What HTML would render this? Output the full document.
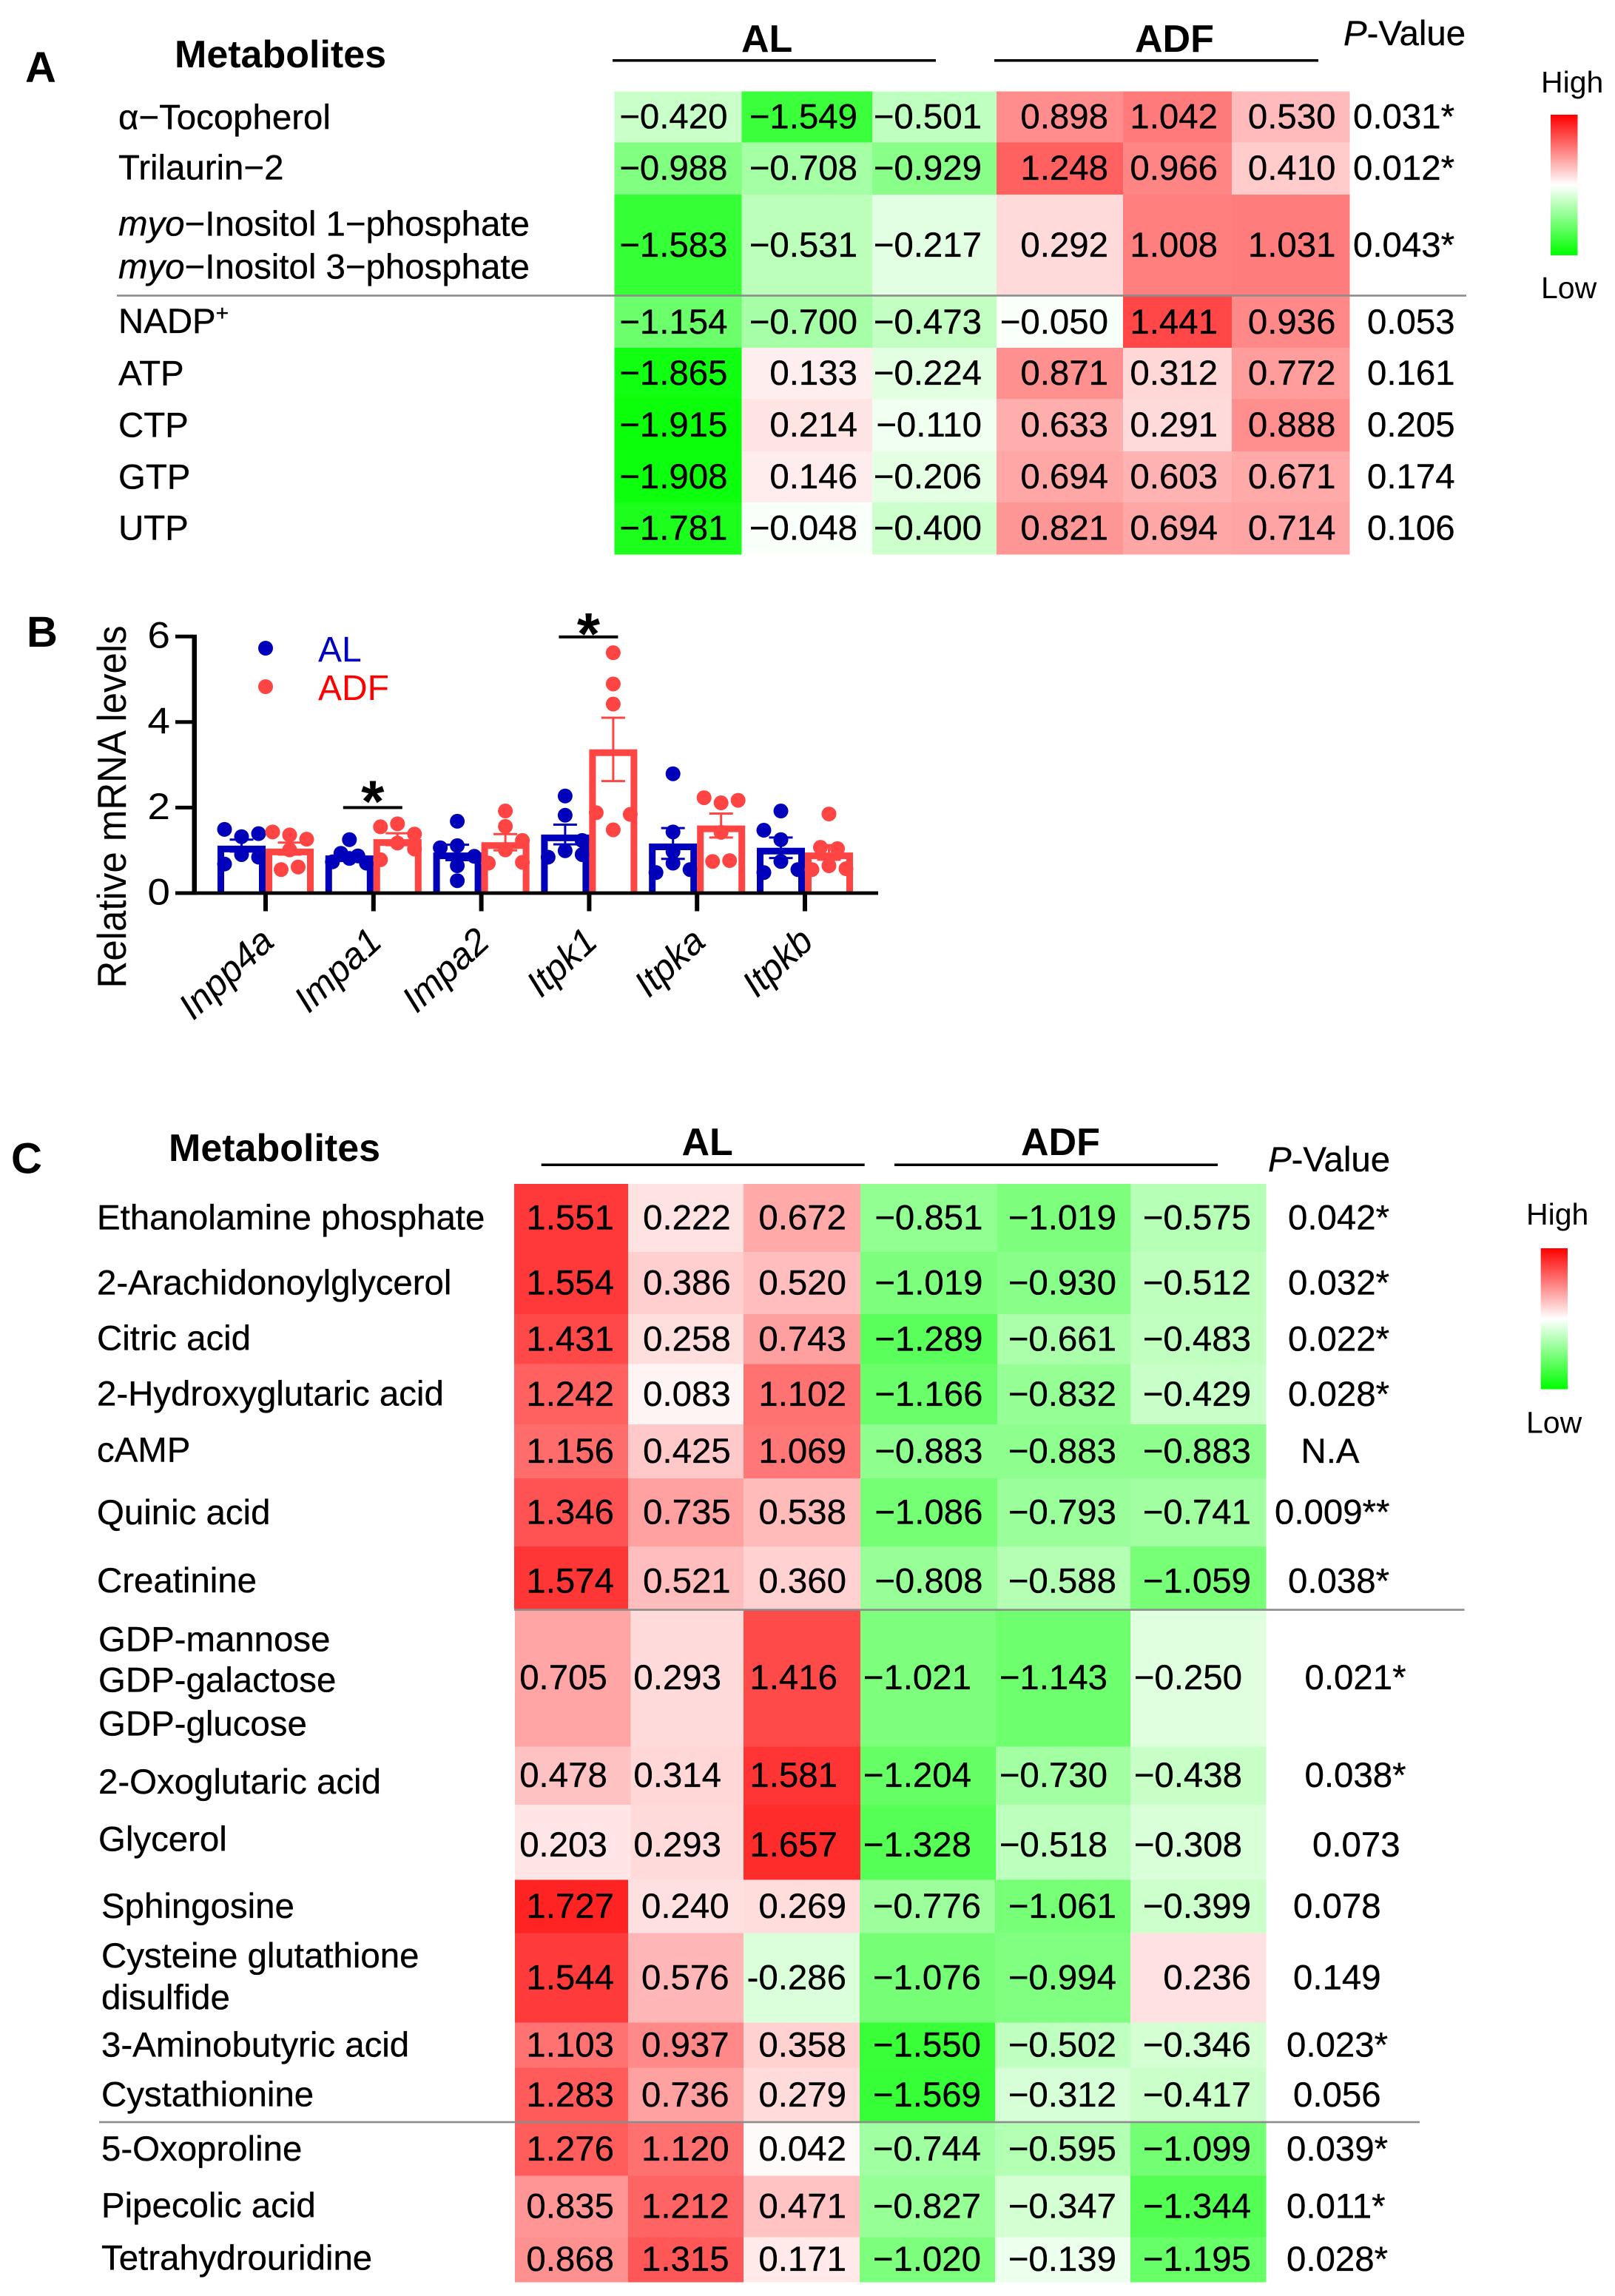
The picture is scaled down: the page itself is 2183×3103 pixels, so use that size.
<!DOCTYPE html>
<html lang="en">
<head>
<meta charset="utf-8">
<title>Metabolite heatmaps and relative mRNA levels</title>
<style>
html,body{margin:0;padding:0;background:#fff;}
svg{display:block;font-family:"Liberation Sans",Arial,sans-serif;}
.lbl{font-size:47.4px;fill:#000;stroke:#000;stroke-width:0.35px;transform:translateY(-1.5px);}
.hdr{font-size:52px;font-weight:bold;fill:#000;}
.pan{font-size:58px;font-weight:bold;fill:#000;}
.leg{font-size:41px;fill:#000;}
</style>
</head>
<body>
<svg id="chart" xmlns="http://www.w3.org/2000/svg" width="2183" height="3103" viewBox="0 0 2183 3103">
<defs>
<linearGradient id="heat-gradient" x1="0" y1="0" x2="0" y2="1">
<stop offset="0" stop-color="#ff0000"/>
<stop offset="0.5" stop-color="#ffffff"/>
<stop offset="1" stop-color="#00ff00"/>
</linearGradient>
</defs>
<rect x="0" y="0" width="2183" height="3103" fill="#fff"/>

<!-- Panel A static -->
<g id="panel-a">
<text class="pan" x="34" y="111">A</text>
<text class="hdr" x="236" y="91">Metabolites</text>
<text class="hdr" x="1002" y="70">AL</text>
<text class="hdr" x="1534" y="70">ADF</text>
<rect x="828" y="80" width="437" height="3.5" fill="#000"/>
<rect x="1344" y="80" width="438" height="3.5" fill="#000"/>
<text class="lbl" style="transform:none" x="1816" y="61"><tspan font-style="italic">P</tspan>-Value</text>
<text class="lbl" x="160" y="176">α−Tocopherol</text>
<text class="lbl" x="160" y="244">Trilaurin−2</text>
<text class="lbl" x="160" y="320"><tspan font-style="italic">myo</tspan>−Inositol 1−phosphate</text>
<text class="lbl" x="160" y="378"><tspan font-style="italic">myo</tspan>−Inositol 3−phosphate</text>
<text class="lbl" x="160" y="451.5">NADP<tspan font-size="30" dy="-17">+</tspan></text>
<text class="lbl" x="160" y="522">ATP</text>
<text class="lbl" x="160" y="592">CTP</text>
<text class="lbl" x="160" y="662">GTP</text>
<text class="lbl" x="160" y="731">UTP</text>
<text class="leg" x="2083" y="125">High</text>
<rect x="2096" y="155" width="36.5" height="190" fill="url(#heat-gradient)"/>
<text class="leg" x="2083" y="403">Low</text>
</g>

<!-- Panel B static -->
<g id="panel-b">
<text class="pan" x="36" y="874">B</text>
<text font-size="51" transform="translate(170,1335.5) rotate(-90) scale(1,1.07)">Relative mRNA levels</text>
<circle cx="359" cy="876" r="10" fill="#0000bb"/>
<circle cx="359" cy="928" r="10" fill="#ff4444"/>
<text x="430" y="894" font-size="48" fill="#0000c0">AL</text>
<text x="430" y="946" font-size="48" fill="#ff0000">ADF</text>
</g>

<!-- Panel C static -->
<g id="panel-c">
<text class="pan" x="15" y="1585.6">C</text>
<text class="hdr" x="228" y="1569">Metabolites</text>
<text class="hdr" x="921.5" y="1561">AL</text>
<text class="hdr" x="1380" y="1561">ADF</text>
<rect x="731.7" y="1572.5" width="437" height="3.5" fill="#000"/>
<rect x="1209" y="1572.5" width="437" height="3.5" fill="#000"/>
<text class="lbl" x="1714" y="1584.6"><tspan font-style="italic">P</tspan>-Value</text>
<text class="lbl" x="131" y="1663">Ethanolamine phosphate</text>
<text class="lbl" x="131" y="1751">2-Arachidonoylglycerol</text>
<text class="lbl" x="131" y="1826">Citric acid</text>
<text class="lbl" x="131" y="1901">2-Hydroxyglutaric acid</text>
<text class="lbl" x="131" y="1977">cAMP</text>
<text class="lbl" x="131" y="2061.6">Quinic acid</text>
<text class="lbl" x="131" y="2153.6">Creatinine</text>
<text class="lbl" x="133" y="2233">GDP-mannose</text>
<text class="lbl" x="133" y="2288">GDP-galactose</text>
<text class="lbl" x="133" y="2347">GDP-glucose</text>
<text class="lbl" x="133" y="2425.4">2-Oxoglutaric acid</text>
<text class="lbl" x="133" y="2503">Glycerol</text>
<text class="lbl" x="137" y="2593.4">Sphingosine</text>
<text class="lbl" x="137" y="2660.6">Cysteine glutathione</text>
<text class="lbl" x="137" y="2717">disulfide</text>
<text class="lbl" x="137" y="2781">3-Aminobutyric acid</text>
<text class="lbl" x="137" y="2848">Cystathionine</text>
<text class="lbl" x="137" y="2921.5">5-Oxoproline</text>
<text class="lbl" x="137" y="2998">Pipecolic acid</text>
<text class="lbl" x="137" y="3069">Tetrahydrouridine</text>
<text class="leg" x="2063" y="1655">High</text>
<rect x="2082.7" y="1687" width="36.3" height="190.5" fill="url(#heat-gradient)"/>
<text class="leg" x="2063" y="1936.6">Low</text>
</g>
</svg>

<script>
/* ---------- Panel A data ---------- */
const heatAL_A = [
  [-0.420,-1.549,-0.501],[-0.988,-0.708,-0.929],[-1.583,-0.531,-0.217],[-1.154,-0.700,-0.473],
  [-1.865,0.133,-0.224],[-1.915,0.214,-0.110],[-1.908,0.146,-0.206],[-1.781,-0.048,-0.400]
];
const heatADF_A = [
  [0.898,1.042,0.530],[1.248,0.966,0.410],[0.292,1.008,1.031],[-0.050,1.441,0.936],
  [0.871,0.312,0.772],[0.633,0.291,0.888],[0.694,0.603,0.671],[0.821,0.694,0.714]
];
const pValues_A = ['0.031*','0.012*','0.043*','0.053','0.161','0.205','0.174','0.106'];

/* ---------- Panel C data ---------- */
const heatAL_C = [
  [1.551,0.222,0.672],[1.554,0.386,0.520],[1.431,0.258,0.743],[1.242,0.083,1.102],
  [1.156,0.425,1.069],[1.346,0.735,0.538],[1.574,0.521,0.360],[0.705,0.293,1.416],
  [0.478,0.314,1.581],[0.203,0.293,1.657],[1.727,0.240,0.269],[1.544,0.576,-0.286],
  [1.103,0.937,0.358],[1.283,0.736,0.279],[1.276,1.120,0.042],[0.835,1.212,0.471],[0.868,1.315,0.171]
];
const heatADF_C = [
  [-0.851,-1.019,-0.575],[-1.019,-0.930,-0.512],[-1.289,-0.661,-0.483],[-1.166,-0.832,-0.429],
  [-0.883,-0.883,-0.883],[-1.086,-0.793,-0.741],[-0.808,-0.588,-1.059],[-1.021,-1.143,-0.250],
  [-1.204,-0.730,-0.438],[-1.328,-0.518,-0.308],[-0.776,-1.061,-0.399],[-1.076,-0.994,0.236],
  [-1.550,-0.502,-0.346],[-1.569,-0.312,-0.417],[-0.744,-0.595,-1.099],[-0.827,-0.347,-1.344],[-1.020,-0.139,-1.195]
];
const pValues_C = ['0.042*','0.032*','0.022*','0.028*','N.A','0.009**','0.038*','0.021*','0.038*','0.073','0.078','0.149','0.023*','0.056','0.039*','0.011*','0.028*'];

/* ---------- Panel B data ---------- */
const genes = ['Inpp4a','Impa1','Impa2','Itpk1','Itpka','Itpkb'];
const yTickValues = [0,2,4,6];
const alMeans = [1.11,0.88,0.95,1.37,1.16,1.06];
const adfMeans = [1.04,1.26,1.19,3.36,1.58,0.95];
const alErrors = [0.14,0.06,0.18,0.23,0.36,0.24];
const adfErrors = [0.14,0.14,0.19,0.74,0.28,0.17];
const alPoints = [
  [1.49,1.32,1.39,0.90,0.84,0.68],
  [1.25,0.93,0.87,0.81,0.73,0.70],
  [1.68,1.11,1.06,0.86,0.64,0.29],
  [2.27,1.82,1.23,0.99,0.90,0.84],
  [2.79,1.43,0.97,0.70,0.48,0.55],
  [1.92,1.47,1.25,0.74,0.48,0.55]
];
const adfPoints = [
  [1.43,1.36,1.26,1.01,0.55,0.61],
  [1.55,1.62,1.38,1.17,1.03,0.78],
  [1.92,1.56,1.23,1.01,0.72,0.70],
  [5.62,4.89,4.42,1.88,1.84,1.48],
  [2.23,2.11,2.17,1.42,0.74,0.76],
  [1.85,1.07,1.04,0.64,0.55,0.57]
];
/* swarm slot of each point (unitless: -1 left, 0 centre, 1 right) */
const alSwarm = [
  [-1,0,1,0,1,-1],[0,-0.5,0.5,0,-1,1],[0,0,-1,1,0,0],[0,0,1,0,1,-1],[0,0,0,0,-1,1],[0,-1,0,0,-1,1]
];
const adfSwarm = [
  [-1,0,1,0,-0.5,0.5],[-1,0,1,0,1,-1],[0,0,1,0,1,-1],[0,0,0,-1,1,0],[-1,0,1,0,-0.5,0.5],[0,-0.5,0.5,0,-1,1]
];
/* significance: gene index, height in axis units */
const sigGenes = [1,3];
const sigLevels = [2.0,5.99];

/* ---------- layout (relative row heights, not data) ---------- */
const rowSizesA = [68.8,70.5,137.7,69.5,69,71,69,70];
const rowSizesC = [92,84.2,67.5,81.5,73,92,85,185.3,78.7,101.4,71.9,121.2,60.9,74.6,71.4,82.9,60.7];
const colEdgesA = [830.6,1002.4,1179,1346.8,1518,1665,1823.8];
const numRightA = [983.5,1159,1327,1498,1646,1805.5];
const colEdgesC = [
  [695,849,1005,1163,1348,1528,1711],
  [696,852.5,1005,1163,1346,1528,1711],
  [696,849,1005,1162,1345,1528,1711]
];
const numRightC = [
  [830,987.7,1144,1328.5,1509,1691],
  [820.8,975,1132,1313,1497,1679],
  [830,985.6,1144,1326,1509,1691]
];
const pLeftA = [1829,1829,1829,1848,1848,1848,1848,1848];
const pLeftC = [1741,1741,1741,1741,1758.5,1723,1741,1763.5,1763.5,1774,1748,1748,1739,1748,1739,1739,1739];
const nudgeC = [0,0,0,0,0,0,4.5,0,0,4,0,0,0,0,0,0,0];
const starGaps = [19,23];

const SVG_NS = 'http://www.w3.org/2000/svg';
function make(tag, attrs, parent) {
  const el = document.createElementNS(SVG_NS, tag);
  for (const k in attrs) el.setAttribute(k, attrs[k]);
  parent.appendChild(el);
  return el;
}

/* colour scale: -2 pure green, 0 white, +2 pure red */
const HEAT_MAX = 2;
function heatColor(v) {
  const t = Math.min(1, Math.abs(v) / HEAT_MAX);
  const c = Math.round(255 * (1 - t));
  return v >= 0 ? 'rgb(255,' + c + ',' + c + ')' : 'rgb(' + c + ',255,' + c + ')';
}
function formatValue(v) {
  const s = Math.abs(v).toFixed(3);
  return v < 0 ? '\u2212' + s : s;
}
function rowBands(top, sizes) {
  const edges = [top];
  sizes.forEach(function (s, i) { edges.push(edges[i] + s); });
  return edges;
}

function drawHeatmap(panelId, alVals, adfVals, pVals, top, sizes, edgesFor, rightFor, pLeft, nudge) {
  const parent = document.getElementById(panelId);
  const bands = rowBands(top, sizes);
  alVals.forEach(function (row, r) {
    const values = row.concat(adfVals[r]);
    const edges = edgesFor(r);
    const rights = rightFor(r);
    const base = (bands[r] + bands[r + 1]) / 2 + 17 + (nudge ? nudge[r] : 0);
    values.forEach(function (v, c) {
      const cell = make('rect', {
        x: edges[c], y: bands[r], width: edges[c + 1] - edges[c] + 0.5, height: bands[r + 1] - bands[r] + 0.5,
        fill: heatColor(v), 'shape-rendering': 'crispEdges'
      }, parent);
      
      
    });
    values.forEach(function (v, c) {
      const label = make('text', { x: rights[c], y: base, 'text-anchor': 'end', class: 'lbl' }, parent);
      
      
      let printed = formatValue(v);
      if (panelId === 'panel-c' && r === 11 && c === 2) printed = printed.replace('\u2212', '-');
      label.textContent = printed;
    });
    const p = make('text', { x: pLeft[r], y: base, class: 'lbl' }, parent);
    
    
    p.textContent = pVals[r];
  });
}

drawHeatmap('panel-a', heatAL_A, heatADF_A, pValues_A, 123.5, rowSizesA,
  function () { return colEdgesA; }, function () { return numRightA; }, pLeftA, null);
drawHeatmap('panel-c', heatAL_C, heatADF_C, pValues_C, 1599.8, rowSizesC,
  function (r) { return colEdgesC[r < 7 ? 0 : r < 10 ? 1 : 2]; },
  function (r) { return numRightC[r < 7 ? 0 : r < 10 ? 1 : 2]; }, pLeftC, nudgeC);

/* separators */
const panelAGroup = document.getElementById('panel-a');
const panelCGroup = document.getElementById('panel-c');
const sepA = make('rect', { x: 158, y: 398.2, width: 1824, height: 2.6, fill: '#8c8c8c' }, panelAGroup);


const sepC1 = make('rect', { x: 695, y: 2174.3, width: 1284.5, height: 2.6, fill: '#8c8c8c' }, panelCGroup);


const sepC2 = make('rect', { x: 134, y: 2866.7, width: 1785, height: 2.6, fill: '#8c8c8c' }, panelCGroup);



/* ---------- Panel B ---------- */
const barGroup = document.getElementById('panel-b');
const Y_ZERO = 1207, Y_UNIT = 57.8, X_FIRST = 359, X_STEP = 145.8, BAR_W = 65, BAR_STROKE = 9, SLOT = 23;
const BLUE = '#0000bb', RED = '#ff4444';
function yScale(v) { return Y_ZERO - Y_UNIT * v; }
function xScale(i) { return X_FIRST + X_STEP * i; }

function drawSeries(i, mean, err, points, swarm, color, left, name) {
  const xLeft = left ? xScale(i) - BAR_W : xScale(i);
  const cx = xLeft + BAR_W / 2;
  const inset = BAR_STROKE / 2;
  const bar = make('path', {
    d: 'M' + (xLeft + inset) + ' ' + Y_ZERO + 'V' + (yScale(mean) + inset) + 'H' + (xLeft + BAR_W - inset) + 'V' + Y_ZERO,
    fill: 'none', stroke: color, 'stroke-width': BAR_STROKE
  }, barGroup);
  
  
  points.forEach(function (v, k) {
    const dot = make('circle', { cx: cx + swarm[k] * SLOT, cy: yScale(v), r: 10, fill: color }, barGroup);
    
    
  });
  const hi = yScale(mean + err), lo = yScale(mean - err);
  const eb = make('path', {
    d: 'M' + cx + ' ' + hi + 'V' + lo + 'M' + (cx - 16) + ' ' + hi + 'H' + (cx + 16) + 'M' + (cx - 16) + ' ' + lo + 'H' + (cx + 16),
    fill: 'none', stroke: color, 'stroke-width': 3
  }, barGroup);
  
  
}

genes.forEach(function (g, i) {
  drawSeries(i, alMeans[i], alErrors[i], alPoints[i], alSwarm[i], BLUE, true, 'al-' + g.toLowerCase());
  drawSeries(i, adfMeans[i], adfErrors[i], adfPoints[i], adfSwarm[i], RED, false, 'adf-' + g.toLowerCase());
});

const yAxis = make('rect', { x: 259.5, y: yScale(6) - 2.5, width: 6.5, height: Y_ZERO - yScale(6) + 5, fill: '#000' }, barGroup);


const xAxis = make('rect', { x: 237, y: Y_ZERO - 2.4, width: 950, height: 4.8, fill: '#000' }, barGroup);



yTickValues.forEach(function (t) {
  const tick = make('rect', { x: 237, y: yScale(t) - 2.5, width: 24, height: 5, fill: '#000' }, barGroup);
  
  
  const label = make('text', {
    'text-anchor': 'end', 'font-size': 50,
    transform: 'translate(230,' + (yScale(t) + 15.5) + ') scale(1.1,1)'
  }, barGroup);
  
  
  label.textContent = String(t);
});

genes.forEach(function (g, i) {
  const tick = make('rect', { x: xScale(i) - 3, y: Y_ZERO, width: 6, height: 24.5, fill: '#000' }, barGroup);
  
  
  const label = make('text', {
    'text-anchor': 'end', 'font-size': 50, 'font-style': 'italic',
    transform: 'translate(' + (xScale(i) + 14) + ',1276) rotate(-43)'
  }, barGroup);
  
  
  label.textContent = g;
});

sigGenes.forEach(function (g, k) {
  const cx = xScale(g);
  const y = yScale(sigLevels[k]);
  const line = make('rect', { x: cx - 41, y: y - 2, width: 80, height: 4, fill: '#000' }, barGroup);
  
  
  const star = make('text', { x: cx - 1, y: y + starGaps[k], 'text-anchor': 'middle', 'font-size': 80, 'font-weight': 'bold' }, barGroup);
  
  
  star.textContent = '*';
});
</script>
</body>
</html>
